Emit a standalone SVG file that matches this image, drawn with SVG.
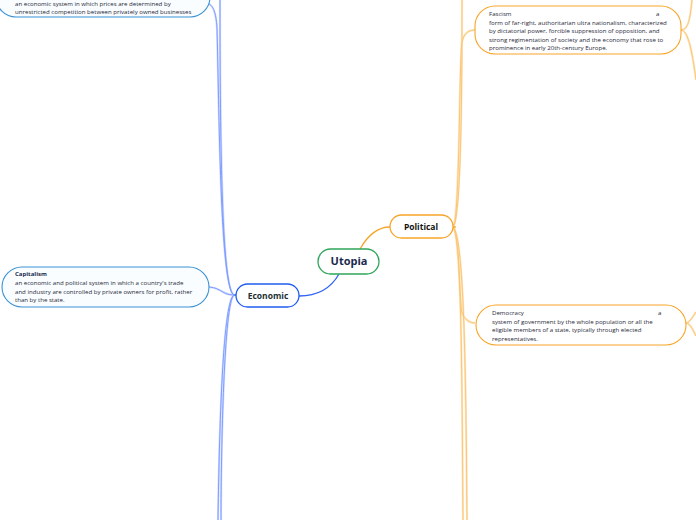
<svg xmlns="http://www.w3.org/2000/svg" width="696" height="520" viewBox="0 0 696 520">
<style>
.bg{fill:#ffffff}
.eco{fill:none;stroke:#7f9dff;stroke-width:1}
.ecoh{fill:none;stroke:#d3ddff;stroke-width:2.2}
.pol{fill:none;stroke:#fbc676;stroke-width:1}
.polh{fill:none;stroke:#fee8c4;stroke-width:2.2}
.root{fill:#ffffff;stroke:#2fa65a;stroke-width:1.3}
.main-eco{fill:#ffffff;stroke:#1f5cf0;stroke-width:1.3}
.main-pol{fill:#ffffff;stroke:#f7a529;stroke-width:1.3}
.sub-eco{fill:#fafdff;stroke:#3a92d4;stroke-width:1.1}
.sub-pol{fill:#ffffff;stroke:#f7a529;stroke-width:1.1}
text{font-family:"Open Sans","Noto Sans","Liberation Sans",sans-serif}
.t-root{font-size:11px;font-weight:bold;fill:#1b2a4e}
.t-main{font-size:8.5px;font-weight:bold;fill:#1c2f33}
.t-title{font-size:6px;font-weight:bold;fill:#1b2a4e}
.t-desc{font-size:6.1px;fill:#1f2838}
</style>
<rect class="bg" x="0" y="0" width="696" height="520"/>
<g id="connectors">
  <g id="eco-halo">
    <path class="ecoh" d="M234,295 C220,290 219,100 217,28 C216,12 213,6 209,4"/>
    <path class="ecoh" d="M234,295 C222,290 220,150 220,0"/>
    <path class="ecoh" d="M234,295 C222,300 219,450 218,520"/>
    <path class="ecoh" d="M234,295 C224,302 221,450 221,520"/>
    <path class="ecoh" d="M209,287 C222,288 222,295 234,295"/>
  </g>
  <path class="eco" d="M339,274 C330,290 315,296 299,296" style="stroke:#2f63f5;stroke-width:1.3"/>
  <path class="eco" d="M234,295 C220,290 219,100 217,28 C216,12 213,6 209,4"/>
  <path class="eco" d="M234,295 C222,290 220,150 220,0"/>
  <path class="eco" d="M234,295 C222,300 219,450 218,520"/>
  <path class="eco" d="M234,295 C224,302 221,450 221,520"/>
  <path class="eco" d="M209,287 C222,288 222,295 234,295"/>
  <path class="eco" d="M234,295 L237,295" style="stroke:#1f5cf0;stroke-width:1.3"/>
  <g id="pol-halo">
    <path class="polh" d="M453,227 C460,220 459,60 462,42 C464,32 470,30 475,30"/>
    <path class="polh" d="M453,227 C462,220 462,60 462,0"/>
    <path class="polh" d="M453,227 C460,235 459,300 462,313 C465,320 470,323 475,323"/>
    <path class="polh" d="M453,227 C462,235 462,400 463,520"/>
    <path class="polh" d="M453,227 C465,235 466,400 467,520"/>
    <path class="polh" d="M681,30 C688,30 690,20 692,0"/>
    <path class="polh" d="M681,30 C688,30 692,50 696,80"/>
    <path class="polh" d="M686,323 C690,323 693,316 696,312"/>
    <path class="polh" d="M686,323 C690,323 693,330 696,336"/>
  </g>
  <path class="pol" d="M360,249 C368,235 378,227 390,227" style="stroke:#f7a529;stroke-width:1.3"/>
  <path class="pol" d="M453,227 C460,220 459,60 462,42 C464,32 470,30 475,30"/>
  <path class="pol" d="M453,227 C462,220 462,60 462,0"/>
  <path class="pol" d="M453,227 C460,235 459,300 462,313 C465,320 470,323 475,323"/>
  <path class="pol" d="M453,227 C462,235 462,400 463,520"/>
  <path class="pol" d="M453,227 C465,235 466,400 467,520"/>
  <path class="pol" d="M681,30 C688,30 690,20 692,0"/>
  <path class="pol" d="M681,30 C688,30 692,50 696,80"/>
  <path class="pol" d="M686,323 C690,323 693,316 696,312"/>
  <path class="pol" d="M686,323 C690,323 693,330 696,336"/>
  <path class="pol" d="M450,227 L456,227" style="stroke:#f7a529;stroke-width:1.3"/>
</g>
<g id="utopia">
  <rect class="root" x="318" y="249" width="61" height="25" rx="12.5"/>
  <text class="t-root" x="349" y="265" text-anchor="middle">Utopia</text>
</g>
<g id="political">
  <rect class="main-pol" x="390" y="215" width="63" height="23" rx="11.5"/>
  <text class="t-main" x="421" y="230" text-anchor="middle" style="fill:#111111">Political</text>
</g>
<g id="economic">
  <rect class="main-eco" x="236" y="284" width="63" height="23" rx="11.5"/>
  <text class="t-main" x="268" y="299" text-anchor="middle">Economic</text>
</g>
<g id="free-market">
  <rect class="sub-eco" x="-4" y="-30" width="214" height="47" rx="20"/>
  <text class="t-desc" x="15" y="5.5">an economic system in which prices are determined by</text>
  <text class="t-desc" x="15" y="13.5">unrestricted competition between privately owned businesses</text>
</g>
<g id="capitalism">
  <rect class="sub-eco" x="2" y="267" width="207" height="40" rx="20"/>
  <text class="t-title" x="15" y="276">Capitalism</text>
  <text class="t-desc" x="15" y="285">an economic and political system in which a country's trade</text>
  <text class="t-desc" x="15" y="293.5">and industry are controlled by private owners for profit, rather</text>
  <text class="t-desc" x="15" y="302">than by the state.</text>
</g>
<g id="fascism">
  <rect class="sub-pol" x="475" y="6" width="206" height="48" rx="20"/>
  <text class="t-desc" x="489" y="16">Fascism</text>
  <text class="t-desc" x="656" y="16">a</text>
  <text class="t-desc" x="489" y="24.5">form of far-right, authoritarian ultra nationalism, characterized</text>
  <text class="t-desc" x="489" y="33">by dictatorial power, forcible suppression of opposition, and</text>
  <text class="t-desc" x="489" y="41.5">strong regimentation of society and the economy that rose to</text>
  <text class="t-desc" x="489" y="50">prominence in early 20th-century Europe.</text>
</g>
<g id="democracy">
  <rect class="sub-pol" x="476" y="305" width="210" height="40" rx="20"/>
  <text class="t-desc" x="492" y="315">Democracy</text>
  <text class="t-desc" x="658" y="315">a</text>
  <text class="t-desc" x="492" y="324">system of government by the whole population or all the</text>
  <text class="t-desc" x="492" y="332">eligible members of a state, typically through elected</text>
  <text class="t-desc" x="492" y="340.5">representatives.</text>
</g>
</svg>
